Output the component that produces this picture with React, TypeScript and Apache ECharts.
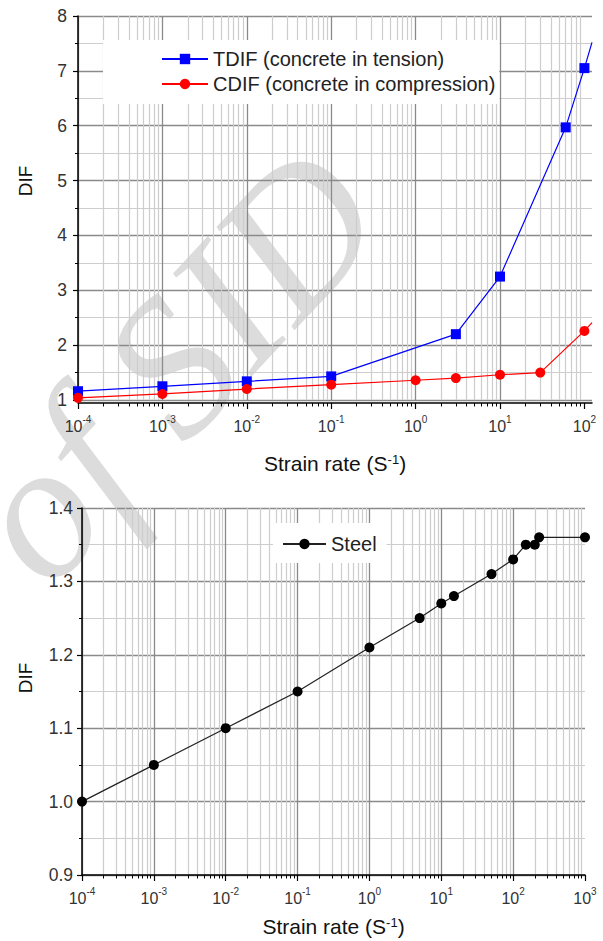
import React, { useEffect, useRef } from "react";
import * as echarts from "echarts";

// ---- data ----
const tdifRate = [1e-4, 1e-3, 1e-2, 1e-1, 3, 10, 60, 100, 123];
const tdifValue = [1.16, 1.25, 1.34, 1.43, 2.2, 3.25, 5.97, 7.05, 7.52];
const cdifRate = [1e-4, 1e-3, 1e-2, 1e-1, 1, 3, 10, 30, 100, 123];
const cdifValue = [1.04, 1.11, 1.2, 1.28, 1.36, 1.4, 1.46, 1.5, 2.26, 2.41];
const steelRate = [1e-4, 1e-3, 1e-2, 1e-1, 1, 5, 10, 15, 50, 100, 150, 200, 230, 1000];
const steelValue = [1.0, 1.05, 1.1, 1.15, 1.21, 1.25, 1.27, 1.28, 1.31, 1.33, 1.35, 1.35, 1.36, 1.36];
const topDecades = [1e-4, 1e-3, 1e-2, 1e-1, 1, 10, 100];
const xTitle = "Strain rate (S{sup|-1})";
const yTitle = "DIF";
const seriesNames = ["TDIF (concrete in tension)", "CDIF (concrete in compression)", "Steel"];
const watermark = "of SID";

const FONT = "'Liberation Sans', Arial, sans-serif";
const MAJOR = "#8a8a8a";
const MINOR = "#cdcdcd";

function pts(xs: number[], ys: number[], lastBare: boolean) {
  return xs.map((x, i) =>
    lastBare && i === xs.length - 1 ? { value: [x, ys[i]], symbol: "none" } : { value: [x, ys[i]] }
  );
}

const expLabel = (v: number) => `{b|10}{s|${Math.round(Math.log10(v))}}`;

function xAxisOpt(gridIndex: number, max: number, offset: number, nameGap: number, custom?: number[]) {
  const ax: any = {
    type: "log",
    logBase: 10,
    gridIndex,
    min: 1e-4,
    max,
    offset,
    name: xTitle,
    nameLocation: "middle",
    nameGap,
    nameTextStyle: {
      fontSize: 21,
      fontFamily: FONT,
      color: "#111",
      rich: { sup: { fontSize: 13, fontFamily: FONT, color: "#111", verticalAlign: "top", lineHeight: 15 } },
    },
    axisLine: { show: true, lineStyle: { color: "#000", width: 1.5 } },
    axisTick: { show: true, inside: false, length: 6, lineStyle: { color: "#000", width: 1.2 } },
    minorTick: { show: true, splitNumber: 9, length: 3.5, lineStyle: { color: "#000", width: 1 } },
    axisLabel: {
      margin: 11,
      color: "#333",
      formatter: expLabel,
      rich: {
        b: { fontSize: 16, fontFamily: FONT, color: "#333", verticalAlign: "bottom", lineHeight: 20 },
        s: { fontSize: 10, fontFamily: FONT, color: "#333", verticalAlign: "top", lineHeight: 12 },
      },
    },
    splitLine: { show: true, showMaxLine: false, lineStyle: { color: MAJOR, width: 1.3 } },
    minorSplitLine: { show: true, lineStyle: { color: MINOR, width: 1.2 } },
  };
  if (custom) {
    ax.axisLabel.customValues = custom;
    ax.axisTick.customValues = custom;
  }
  return ax;
}

function yAxisOpt(gridIndex: number, min: number, max: number, interval: number, digits: number, margin: number) {
  return {
    type: "value",
    gridIndex,
    min,
    max,
    interval,
    axisLine: { show: true, lineStyle: { color: "#000", width: 1.5 } },
    axisTick: { show: true, inside: false, length: 5, lineStyle: { color: "#000", width: 1.2 } },
    minorTick: { show: true, splitNumber: 2, length: 3, lineStyle: { color: "#000", width: 1 } },
    axisLabel: {
      margin,
      fontSize: 17.5,
      fontFamily: FONT,
      color: "#333",
      formatter: (v: number) => v.toFixed(digits),
    },
    splitLine: { show: true, lineStyle: { color: MAJOR, width: 1.3 } },
    minorSplitLine: { show: true, lineStyle: { color: MINOR, width: 1.2 } },
  };
}

export default function App() {
  const ref = useRef<HTMLDivElement>(null);
  useEffect(() => {
    if (!ref.current) return;
    const chart = echarts.init(ref.current, null, { renderer: "svg" });
    chart.setOption({
      animation: false,
      backgroundColor: "#fff",
      textStyle: { fontFamily: FONT },
      grid: [
        { left: 78, top: 16, width: 514, height: 384, containLabel: false },
        { left: 82, top: 508, width: 503, height: 367, containLabel: false },
      ],
      xAxis: [xAxisOpt(0, 123, 3, 50, topDecades), xAxisOpt(1, 1000, 0, 41)],
      yAxis: [yAxisOpt(0, 1, 8, 1, 0, 11), yAxisOpt(1, 0.9, 1.4, 0.1, 1, 9)],
      legend: [
        {
          data: [seriesNames[0], seriesNames[1]],
          orient: "vertical",
          left: 103,
          top: 40,
          padding: [9, 4, 10, 58],
          itemGap: 5,
          itemWidth: 46,
          itemHeight: 13,
          backgroundColor: "#fff",
          textStyle: { fontSize: 20, fontFamily: FONT, color: "#222" },
        },
        {
          data: [seriesNames[2]],
          orient: "vertical",
          left: 273,
          top: 523,
          padding: [11, 10, 9, 9],
          itemWidth: 43,
          itemHeight: 13,
          backgroundColor: "#fff",
          textStyle: { fontSize: 20, fontFamily: FONT, color: "#222" },
        },
      ],
      graphic: [
        {
          type: "text",
          x: 172,
          y: 365,
          rotation: 0.82,
          silent: true,
          z: -10,
          style: {
            text: watermark,
            font: "italic 195px 'Liberation Serif', serif",
            fill: "#dcdcdc",
            textAlign: "center",
            textVerticalAlign: "middle",
          },
        },
        {
          type: "text",
          x: 25,
          y: 181,
          rotation: Math.PI / 2,
          style: { text: yTitle, font: `19px ${FONT}`, fill: "#111", textAlign: "center", textVerticalAlign: "middle" },
        },
        {
          type: "text",
          x: 25,
          y: 678,
          rotation: Math.PI / 2,
          style: { text: yTitle, font: `19px ${FONT}`, fill: "#111", textAlign: "center", textVerticalAlign: "middle" },
        },
      ],
      series: [
        {
          name: seriesNames[0],
          type: "line",
          xAxisIndex: 0,
          yAxisIndex: 0,
          data: pts(tdifRate, tdifValue, true),
          symbol: "rect",
          symbolSize: 10,
          lineStyle: { color: "#0000ff", width: 1.2 },
          itemStyle: { color: "#0000ff" },
          z: 3,
        },
        {
          name: seriesNames[1],
          type: "line",
          xAxisIndex: 0,
          yAxisIndex: 0,
          data: pts(cdifRate, cdifValue, true),
          symbol: "circle",
          symbolSize: 10,
          lineStyle: { color: "#ff0000", width: 1.2 },
          itemStyle: { color: "#ff0000" },
          z: 3,
        },
        {
          name: seriesNames[2],
          type: "line",
          xAxisIndex: 1,
          yAxisIndex: 1,
          data: pts(steelRate, steelValue, false),
          symbol: "circle",
          symbolSize: 10,
          lineStyle: { color: "#222", width: 1.2 },
          itemStyle: { color: "#000" },
          z: 3,
        },
      ],
    });
    return () => chart.dispose();
  }, []);
  return <div ref={ref} style={{ width: 603, height: 941, position: "absolute", left: 0, top: 0 }} />;
}
